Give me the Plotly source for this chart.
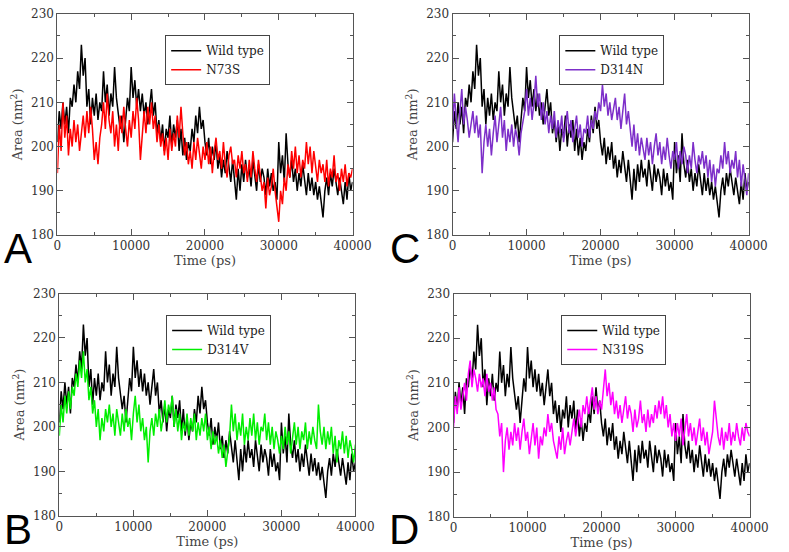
import plotly.graph_objects as go

time_ps = list(range(0, 40001, 250))

wild_type = [
    201, 208, 204, 210, 205, 209, 203, 211,
    209, 214, 210, 217, 213, 223, 216, 220,
    209, 213, 205, 211, 207, 212, 206, 210,
    208, 217, 210, 214, 207, 212, 209, 218,
    211, 208, 204, 207, 201, 206, 211, 208,
    218, 211, 215, 209, 213, 208, 212, 207,
    210, 205, 209, 213, 207, 210, 203, 206,
    201, 205, 199, 204, 202, 207, 200, 205,
    202, 206, 199, 204, 198, 202, 197, 201,
    199, 204, 201, 207, 203, 209, 204, 206,
    201, 198, 202, 196, 200, 197, 201, 195,
    198, 193, 197, 194, 199, 195, 192, 197,
    193, 188, 195, 190, 196, 192, 197, 193,
    195, 191, 197, 193, 190, 196, 192, 195,
    193, 189, 195, 191, 194, 190, 192, 188,
    201, 194, 198, 192, 203, 196, 193, 197,
    192, 195, 190, 194, 191, 196, 193, 189,
    194, 190, 193, 189, 192, 188, 191, 187,
    184, 190, 193, 189, 194, 191, 195, 192,
    189, 193, 190, 187, 192, 188, 194, 190,
    192,
]

n73s = [
    194, 205, 199, 210, 202, 207, 198, 204,
    200, 206, 201, 205, 199, 203, 207, 202,
    208, 203, 209, 204, 197, 201, 196, 202,
    205, 210, 204, 212, 206, 203, 208, 200,
    205, 199, 207, 203, 209, 204, 200, 206,
    202, 208, 204, 211, 206, 197, 203, 208,
    203, 209, 205, 210, 204, 207, 201, 205,
    200, 203, 198, 202, 197, 204, 199, 203,
    200, 207, 202, 209, 203, 198, 201, 196,
    199, 195, 201, 197, 202, 198, 195, 200,
    197, 201, 196, 200, 194, 199, 202, 197,
    199, 195, 201, 196, 193, 198, 200, 196,
    197, 193, 198, 195, 199, 194, 196, 192,
    197, 193, 199, 195, 192, 197, 194, 190,
    192, 186, 193, 189, 191, 195, 190, 187,
    183, 190, 187, 193, 190, 196, 193, 199,
    195, 200, 194, 198, 193, 197, 195, 201,
    196, 200, 194, 199, 195, 192, 197, 194,
    196, 192, 197, 191, 195, 193, 198, 192,
    194, 190, 195, 192, 196, 191, 194, 193,
    195,
]

d314n = [
    204, 212, 206, 201, 208, 213, 205, 209,
    206, 202, 205, 208, 203, 207, 202, 205,
    194, 201, 205, 200, 204, 198, 203, 207,
    201, 205, 209, 202, 206, 199, 204, 201,
    205, 200, 204, 202, 198, 203, 206, 208,
    213, 207, 211, 206, 210, 216, 209, 212,
    206, 210, 205, 208, 203, 207, 204, 208,
    202, 206, 203, 207, 201, 205, 208, 203,
    206, 201, 204, 207, 202, 205, 200, 204,
    203, 207, 202, 206, 204, 208, 206, 210,
    208, 214, 209, 212, 207, 210, 206, 209,
    211, 206, 209, 204, 208, 212, 205, 208,
    204, 200, 205, 199, 203, 198, 202, 199,
    197, 202, 198, 201, 196, 200, 203, 198,
    201, 196, 200, 197, 202, 198, 195, 199,
    197, 201, 195, 199, 196, 200, 198, 194,
    198, 195, 201, 197, 194, 198, 196, 199,
    195, 198, 193, 197, 192, 196, 191, 195,
    194, 198, 195, 201, 196, 199, 194, 197,
    195, 199, 193, 197, 191, 196, 192, 189,
    194,
]

d314v = [
    198, 205, 201, 207, 203, 208, 204, 209,
    207, 212, 209, 215, 211, 217, 210, 213,
    206, 209, 203, 206, 200, 204, 197, 202,
    199, 204, 201, 205, 200, 203, 198, 204,
    201, 198, 203, 199, 204, 200, 202, 197,
    203, 207, 201, 205, 199, 202, 197, 200,
    192, 199, 202, 198, 203, 200, 204, 199,
    202, 206, 201, 205, 203, 207, 200, 204,
    199, 203, 197, 201, 199, 203, 198, 202,
    199, 203, 197, 201, 198, 202, 199, 203,
    197, 200, 195, 199, 196, 198, 194, 197,
    193, 196, 191, 195, 198, 205, 199, 203,
    197, 201, 198, 203, 196, 200, 197, 202,
    198, 203, 197, 201, 196, 200, 199, 203,
    197, 201, 196, 200, 195, 199, 197, 194,
    198, 195, 200, 196, 199, 194, 198, 201,
    196, 200, 195, 199, 197, 201, 195, 199,
    196, 200, 197, 195, 205, 199, 196, 200,
    195, 199, 196, 200, 194, 198, 192, 197,
    195, 199, 194, 198, 193, 197, 195, 192,
    196,
]

n319s = [
    200, 207, 203, 209, 204, 207, 210, 206,
    212, 215, 209, 213, 211, 208, 212, 209,
    211, 207, 212, 208, 210, 206, 209, 204,
    203, 198, 201, 190, 197, 200, 195, 199,
    196, 201, 197, 200, 195, 199, 202, 197,
    199, 194, 198, 201, 196, 200, 193, 198,
    196, 200, 198, 203, 199, 201, 197, 195,
    193, 198, 195, 200, 194, 197, 199, 196,
    199, 202, 198, 201, 204, 200, 205, 203,
    207, 203, 206, 209, 204, 207, 203, 206,
    204, 208, 213, 207, 210, 205, 208, 203,
    206, 202, 205, 201, 204, 207, 202, 205,
    203, 199, 204, 200, 202, 206, 201, 203,
    199, 204, 200, 203, 201, 205, 202, 206,
    203, 207, 202, 205, 200, 203, 198, 201,
    197, 201, 198, 202, 196, 200, 203, 198,
    201, 197, 200, 196, 199, 202, 197, 200,
    196, 199, 194, 197, 199, 206, 201, 198,
    196, 200, 195, 199, 197, 201, 196, 199,
    197, 201, 198, 196, 200, 197, 201, 199,
    198,
]

for s in (wild_type, n73s, d314n, d314v, n319s):
    assert len(s) == len(time_ps), len(s)

x_ticks = [0, 10000, 20000, 30000, 40000]
x_ticklabels = ["0", "10000", "20000", "30000", "40000"]
y_ticks = [180, 190, 200, 210, 220, 230]
y_ticklabels = ["180", "190", "200", "210", "220", "230"]

panel_letters = ["A", "C", "B", "D"]
mutant_names = ["N73S", "D314N", "D314V", "N319S"]
mutant_values = [n73s, d314n, d314v, n319s]
mutant_colors = ["#ff0000", "#7d2fc9", "#00ee00", "#ff00ff"]

W, H = 789, 552
# panel plot-area boxes in pixels: (left, right, top, bottom)
boxes = [(55, 359, 7, 234), (462, 767, 7, 234), (57, 362, 294, 522), (463, 768, 294, 523)]
legend_pos = [(166, 29), (572, 29), (167, 316), (574, 316)]
letter_pos = [(14, 248), (413, 248), (14, 536), (412, 536)]

fig = go.Figure()
serif = "DejaVu Serif"
axis_col = "#555555"

for i in range(4):
    xa = "x" if i == 0 else f"x{i+1}"
    ya = "y" if i == 0 else f"y{i+1}"
    lg = "legend" if i == 0 else f"legend{i+1}"
    fig.add_trace(go.Scatter(x=time_ps, y=wild_type, mode="lines", name="Wild type",
                             line=dict(color="#000000", width=1.5), xaxis=xa, yaxis=ya, legend=lg))
    fig.add_trace(go.Scatter(x=time_ps, y=mutant_values[i], mode="lines", name=mutant_names[i],
                             line=dict(color=mutant_colors[i], width=1.5), xaxis=xa, yaxis=ya, legend=lg))

layout = dict(
    width=W, height=H, margin=dict(l=0, r=0, t=0, b=0),
    paper_bgcolor="white", plot_bgcolor="white", showlegend=True,
    font=dict(family=serif),
)

for i, (l, r, t, b) in enumerate(boxes):
    xk = "xaxis" if i == 0 else f"xaxis{i+1}"
    yk = "yaxis" if i == 0 else f"yaxis{i+1}"
    yref = "y" if i == 0 else f"y{i+1}"
    xref = "x" if i == 0 else f"x{i+1}"
    layout[xk] = dict(
        domain=[l / W, r / W], anchor=yref, range=[0, 40000],
        tickmode="array", tickvals=x_ticks, ticktext=x_ticklabels,
        ticks="inside", ticklen=6, tickcolor=axis_col, tickwidth=1,
        minor=dict(ticks="inside", ticklen=3, dtick=5000, tickcolor=axis_col, showgrid=False),
        showline=True, linecolor=axis_col, linewidth=1, mirror="allticks",
        showgrid=False, zeroline=False,
        tickfont=dict(family=serif, size=12, color="#333333"),
        title=dict(text="Time (ps)", font=dict(family=serif, size=13, color="#444444"), standoff=0),
    )
    layout[yk] = dict(
        domain=[1 - b / H, 1 - t / H], anchor=xref, range=[180, 230],
        tickmode="array", tickvals=y_ticks, ticktext=y_ticklabels,
        ticks="inside", ticklen=6, tickcolor=axis_col, tickwidth=1,
        minor=dict(ticks="inside", ticklen=3, dtick=5, tickcolor=axis_col, showgrid=False),
        showline=True, linecolor=axis_col, linewidth=1, mirror="allticks",
        showgrid=False, zeroline=False,
        tickfont=dict(family=serif, size=12, color="#333333"),
        title=dict(text="Area (nm<sup>2</sup>)", font=dict(family=serif, size=13, color="#444444"), standoff=5),
    )
    lk = "legend" if i == 0 else f"legend{i+1}"
    lx, ly = legend_pos[i]
    layout[lk] = dict(
        x=lx / W, y=1 - ly / H, xanchor="left", yanchor="top", xref="paper", yref="paper",
        bgcolor="white", bordercolor="#444444", borderwidth=1,
        font=dict(family=serif, size=12, color="#222222"),
        itemwidth=30, tracegroupgap=0,
    )

fig.update_layout(**layout)

for i, (cx, cy) in enumerate(letter_pos):
    fig.add_annotation(x=cx / W, y=1 - cy / H, xref="paper", yref="paper", text=panel_letters[i],
                       showarrow=False, font=dict(family="Liberation Sans", size=42, color="#000000"),
                       xanchor="center", yanchor="middle")

fig.write_html("out.html")
